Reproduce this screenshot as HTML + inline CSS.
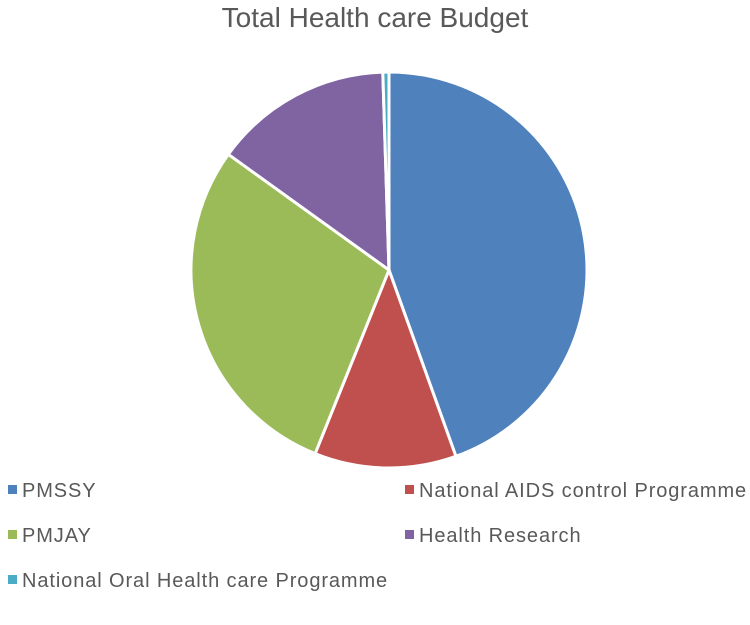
<!DOCTYPE html>
<html><head><meta charset="utf-8"><style>
body{margin:0;background:#fff;width:750px;height:625px;overflow:hidden;font-family:"Liberation Sans",sans-serif}
.t{position:absolute;left:0;width:750px;text-align:center;top:2px;font-size:28px;color:#595959}
.lg{position:absolute;font-size:20px;letter-spacing:0.9px;color:#595959;white-space:nowrap}
.sq{display:inline-block;width:9px;height:9px;margin-right:5px;vertical-align:middle;position:relative;top:-2px}
</style></head><body>
<div class="t">Total Health care Budget</div>
<svg id="pie" width="750" height="625" style="position:absolute;left:0;top:0"></svg>
<div id="legend"></div>
<script>
const categories=["PMSSY","National AIDS control Programme","PMJAY","Health Research","National Oral Health care Programme"];
const values=[44.6,11.6,28.9,14.6,0.5];
const colors=["#4f81bd","#c0504d","#9bbb59","#8064a2","#4bacc6"];
const cx=389,cy=270,r=198;
const svg=document.getElementById('pie');
const total=values.reduce((a,b)=>a+b,0);
let a0=0;
values.forEach((v,i)=>{
  const a1=a0+v/total*2*Math.PI;
  const x0=cx+r*Math.sin(a0),y0=cy-r*Math.cos(a0),x1=cx+r*Math.sin(a1),y1=cy-r*Math.cos(a1);
  const p=document.createElementNS('http://www.w3.org/2000/svg','path');
  p.setAttribute('d',`M${cx},${cy}L${x0},${y0}A${r},${r} 0 ${a1-a0>Math.PI?1:0} 1 ${x1},${y1}Z`);
  p.setAttribute('fill',colors[i]);p.setAttribute('stroke','#fff');p.setAttribute('stroke-width','3');
  
  
  svg.appendChild(p);a0=a1;
});
const pos=[[8,480],[405,480],[8,525],[405,525],[8,570]];
const order=[0,1,2,3,4];
const lg=document.getElementById('legend');
order.forEach((i,k)=>{
  const d=document.createElement('div');d.className='lg';
  d.style.left=pos[k][0]+'px';d.style.top=pos[k][1]+'px';
  d.innerHTML=`<span class="sq" style="background:${colors[i]}"></span>${categories[i]}`;
  
  
  lg.appendChild(d);
});
</script>
</body></html>
